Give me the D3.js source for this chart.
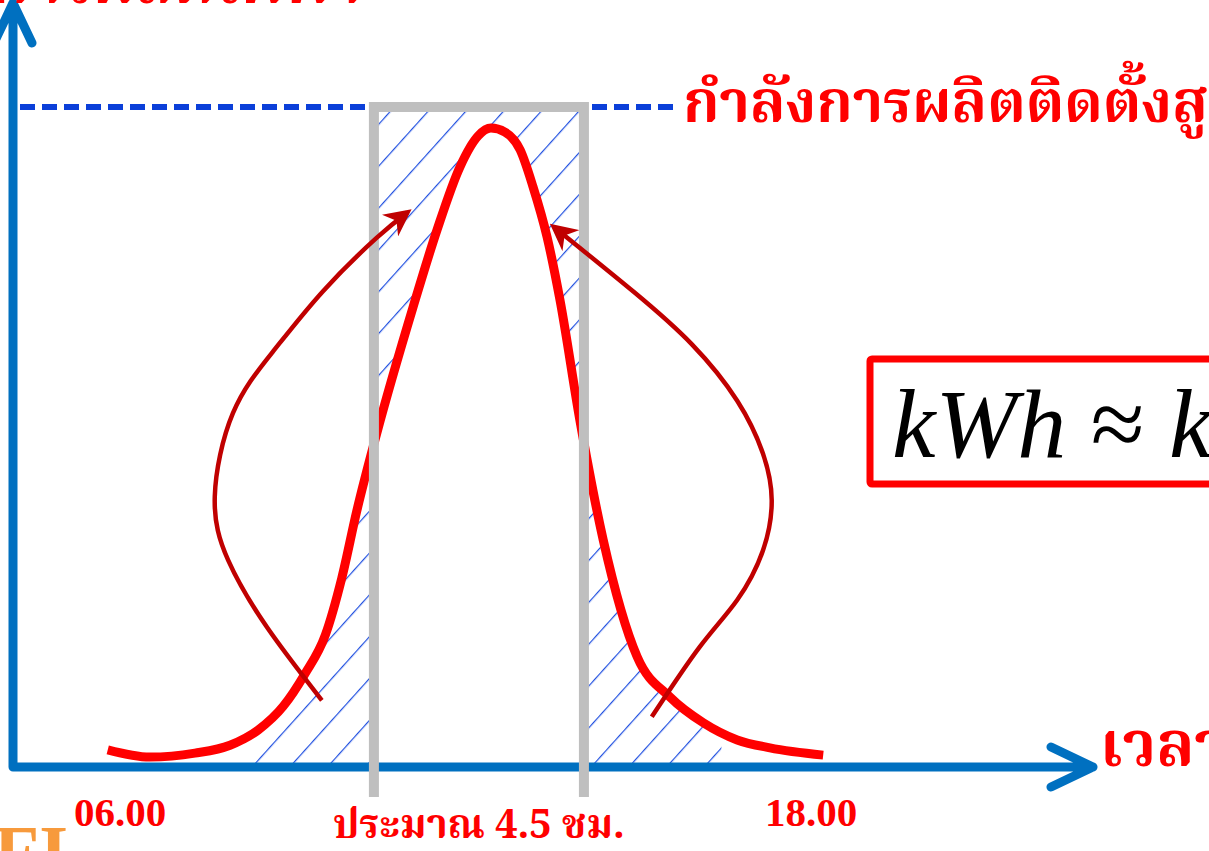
<!DOCTYPE html>
<html>
<head>
<meta charset="utf-8">
<script src="https://cdn.jsdelivr.net/npm/d3@7"></script>
<style>
  body { margin: 0; background: #fff; }
  svg { display: block; }
</style>
</head>
<body>
<script>
// solar output over one day (hours, fraction of installed capacity)
var curveHours = [5.91, 6.63, 7.40, 8.00, 8.48, 8.91, 9.28, 9.63, 9.91, 10.17, 10.51, 11.13, 11.54, 11.93, 12.24, 12.46, 12.70, 12.96, 13.18, 13.42, 13.64, 13.98, 14.38, 14.96, 15.52, 16.09, 16.67, 17.23, 18.14];
var curvePower = [0.026, 0.015, 0.021, 0.033, 0.056, 0.092, 0.141, 0.200, 0.286, 0.389, 0.506, 0.697, 0.814, 0.909, 0.956, 0.968, 0.962, 0.935, 0.879, 0.803, 0.708, 0.526, 0.344, 0.167, 0.106, 0.067, 0.041, 0.029, 0.018];

var installedCapacity = 1.0;
var peakWindow = [10.46, 14.05];      // "about 4.5 h" box
var hatchRange = [8.17, 16.4];

var tickHours = [6, 18];
var tickLabels = ["06.00", "18.00"];

// curved annotation arrows (hour, power)
var leftArrowHours = [9.57, 8.63, 7.97, 7.74, 8.05, 8.74, 9.59, 10.51, 11.03];
var leftArrowPower = [0.101, 0.212, 0.313, 0.410, 0.536, 0.630, 0.721, 0.802, 0.840];
var rightArrowHours = [15.21, 16.03, 16.67, 17.11, 17.26, 17.11, 16.67, 15.90, 14.90, 13.54];
var rightArrowPower = [0.076, 0.182, 0.253, 0.328, 0.404, 0.475, 0.555, 0.640, 0.720, 0.818];

var width = 1209, height = 851;
var axisX = 13, axisEndX = 1093, axisTopY = 3;

var xScale = d3.scaleLinear().domain([6, 18]).range([113, 815]);
var yScale = d3.scaleLinear().domain([0, 1]).range([767, 107]);

var thaiFont = "'Noto Serif Thai','Noto Sans Thai','Loma','Garuda','Tlwg Typo','Liberation Serif',serif";
var serif = "'Liberation Serif','Times New Roman',Times,serif";

var svg = d3.select("body").append("svg")
    .attr("width", width)
    .attr("height", height);

svg.append("rect").attr("width", width).attr("height", height).attr("fill", "#fff");

var defs = svg.append("defs");

var pat = defs.append("pattern")
    .attr("id", "hatch")
    .attr("patternUnits", "userSpaceOnUse")
    .attr("width", 28).attr("height", 28)
    .attr("patternTransform", "rotate(42)");
pat.append("line")
    .attr("x1", 0).attr("y1", 0).attr("x2", 0).attr("y2", 28)
    .attr("stroke", "#1f4fe0").attr("stroke-width", 2.4);

defs.append("marker")
    .attr("id", "head")
    .attr("viewBox", "0 0 10 10")
    .attr("refX", 8).attr("refY", 5)
    .attr("markerUnits", "userSpaceOnUse")
    .attr("markerWidth", 27).attr("markerHeight", 27)
    .attr("orient", "auto")
    .append("path")
    .attr("d", "M0,0 L10,5 L0,10 L3,5 Z")
    .attr("fill", "#c00000");

var pts = curveHours.map(function (h, i) { return [h, curvePower[i]]; });

var line = d3.line()
    .x(function (d) { return xScale(d[0]); })
    .y(function (d) { return yScale(d[1]); })
    .curve(d3.curveMonotoneX);

var area = d3.area()
    .x(function (d) { return xScale(d[0]); })
    .y0(yScale(0))
    .y1(function (d) { return yScale(d[1]); })
    .curve(d3.curveMonotoneX);

// hatch: under the curve outside the box, above the curve inside the box
var bx0 = xScale(peakWindow[0]), bx1 = xScale(peakWindow[1]);
var boxPath = "M" + bx0 + "," + yScale(installedCapacity) + "H" + bx1 + "V" + yScale(0) + "H" + bx0 + "Z";
defs.append("clipPath")
    .attr("id", "hatchClip")
    .append("path")
    .attr("clip-rule", "evenodd")
    .attr("d", area(pts) + boxPath);

svg.append("rect")
    .attr("x", xScale(hatchRange[0]))
    .attr("y", yScale(installedCapacity))
    .attr("width", xScale(hatchRange[1]) - xScale(hatchRange[0]))
    .attr("height", yScale(0) - yScale(installedCapacity))
    .attr("fill", "url(#hatch)")
    .attr("clip-path", "url(#hatchClip)");

// installed capacity dashed line
svg.append("line")
    .attr("x1", 20).attr("x2", 680)
    .attr("y1", yScale(installedCapacity)).attr("y2", yScale(installedCapacity))
    .attr("stroke", "#0b3fd9").attr("stroke-width", 6)
    .attr("stroke-dasharray", "15,7");

// axes
var axisColor = "#0070c0";
svg.append("path")
    .attr("d", "M" + axisX + "," + yScale(0) + "V" + axisTopY +
        "M" + (axisX - 19) + "," + (axisTopY + 40) + "L" + axisX + "," + axisTopY + "L" + (axisX + 19) + "," + (axisTopY + 40) +
        "M" + axisX + "," + yScale(0) + "H" + axisEndX +
        "M" + (axisEndX - 42) + "," + (yScale(0) - 20) + "L" + axisEndX + "," + yScale(0) + "L" + (axisEndX - 42) + "," + (yScale(0) + 20))
    .attr("fill", "none")
    .attr("stroke", axisColor)
    .attr("stroke-width", 9)
    .attr("stroke-linecap", "round")
    .attr("stroke-linejoin", "round");

// production curve
svg.append("path")
    .attr("d", line(pts))
    .attr("fill", "none")
    .attr("stroke", "#ff0000")
    .attr("stroke-width", 9);

// peak-hours box (open at bottom, runs past the axis)
svg.append("path")
    .attr("d", "M" + bx0 + ",797V" + yScale(installedCapacity) + "H" + bx1 + "V797")
    .attr("fill", "none")
    .attr("stroke", "#bfbfbf")
    .attr("stroke-width", 10);

// arrows
var arrowLine = d3.line()
    .x(function (d) { return xScale(d[0]); })
    .y(function (d) { return yScale(d[1]); })
    .curve(d3.curveNatural);

[[leftArrowHours, leftArrowPower], [rightArrowHours, rightArrowPower]].forEach(function (a) {
    var p = a[0].map(function (h, i) { return [h, a[1][i]]; });
    svg.append("path")
        .attr("d", arrowLine(p))
        .attr("fill", "none")
        .attr("stroke", "#c00000")
        .attr("stroke-width", 4.5)
        .attr("marker-end", "url(#head)");
});

// x tick labels
var xAxis = d3.axisBottom(xScale)
    .tickValues(tickHours)
    .tickSize(0)
    .tickFormat(function (d, i) { return tickLabels[i]; });

var gx = svg.append("g")
    .attr("transform", "translate(0," + yScale(0) + ")")
    .call(xAxis);
gx.select(".domain").remove();
gx.selectAll(".tick").attr("transform", function (d) {
    return "translate(" + (xScale(d) + (d === 18 ? -4 : 7)) + ",0)";
});
gx.selectAll("text")
    .attr("y", 59).attr("dy", 0)
    .attr("fill", "#ff0000")
    .style("font-family", serif)
    .style("font-weight", "bold")
    .style("font-size", "41px");

svg.append("text")
    .attr("x", (bx0 + bx1) / 2).attr("y", 838)
    .attr("text-anchor", "middle")
    .attr("fill", "#ff0000")
    .style("font-family", thaiFont)
    .style("font-weight", "bold")
    .style("font-size", "40px")
    .text("ประมาณ 4.5 ชม.");

// axis titles
svg.append("text")
    .attr("x", 683).attr("y", 122)
    .attr("fill", "#ff0000")
    .style("font-family", thaiFont)
    .style("font-weight", "bold")
    .style("font-size", "58px")
    .text("กำลังการผลิตติดตั้งสูงสุด");

svg.append("text")
    .attr("x", 1100).attr("y", 766)
    .attr("fill", "#ff0000")
    .style("font-family", thaiFont)
    .style("font-weight", "bold")
    .style("font-size", "62px")
    .text("เวลา");

svg.append("text")
    .attr("x", 362).attr("y", 3)
    .attr("text-anchor", "end")
    .attr("fill", "#ff0000")
    .style("font-family", thaiFont)
    .style("font-weight", "bold")
    .style("font-size", "62px")
    .text("กำลังการผลิตไฟฟ้า");

// formula box
svg.append("rect")
    .attr("x", 870).attr("y", 359)
    .attr("width", 400).attr("height", 125)
    .attr("fill", "#fff")
    .attr("stroke", "#ff0000")
    .attr("stroke-width", 7)
    .attr("rx", 2);

var f = svg.append("text")
    .attr("x", 892).attr("y", 457)
    .attr("fill", "#000")
    .style("font-family", serif)
    .style("font-size", "98px");
f.append("tspan").style("font-style", "italic").text("kWh");
f.append("tspan").text(" \u2248 ");
f.append("tspan").style("font-style", "italic").text("kW \u00d7 4.5");

// corner logo fragment
svg.append("text")
    .attr("x", -6).attr("y", 877)
    .attr("fill", "#f79a3c")
    .style("font-family", serif)
    .style("font-weight", "bold")
    .style("font-size", "74px")
    .text("FI");
</script>
</body>
</html>
